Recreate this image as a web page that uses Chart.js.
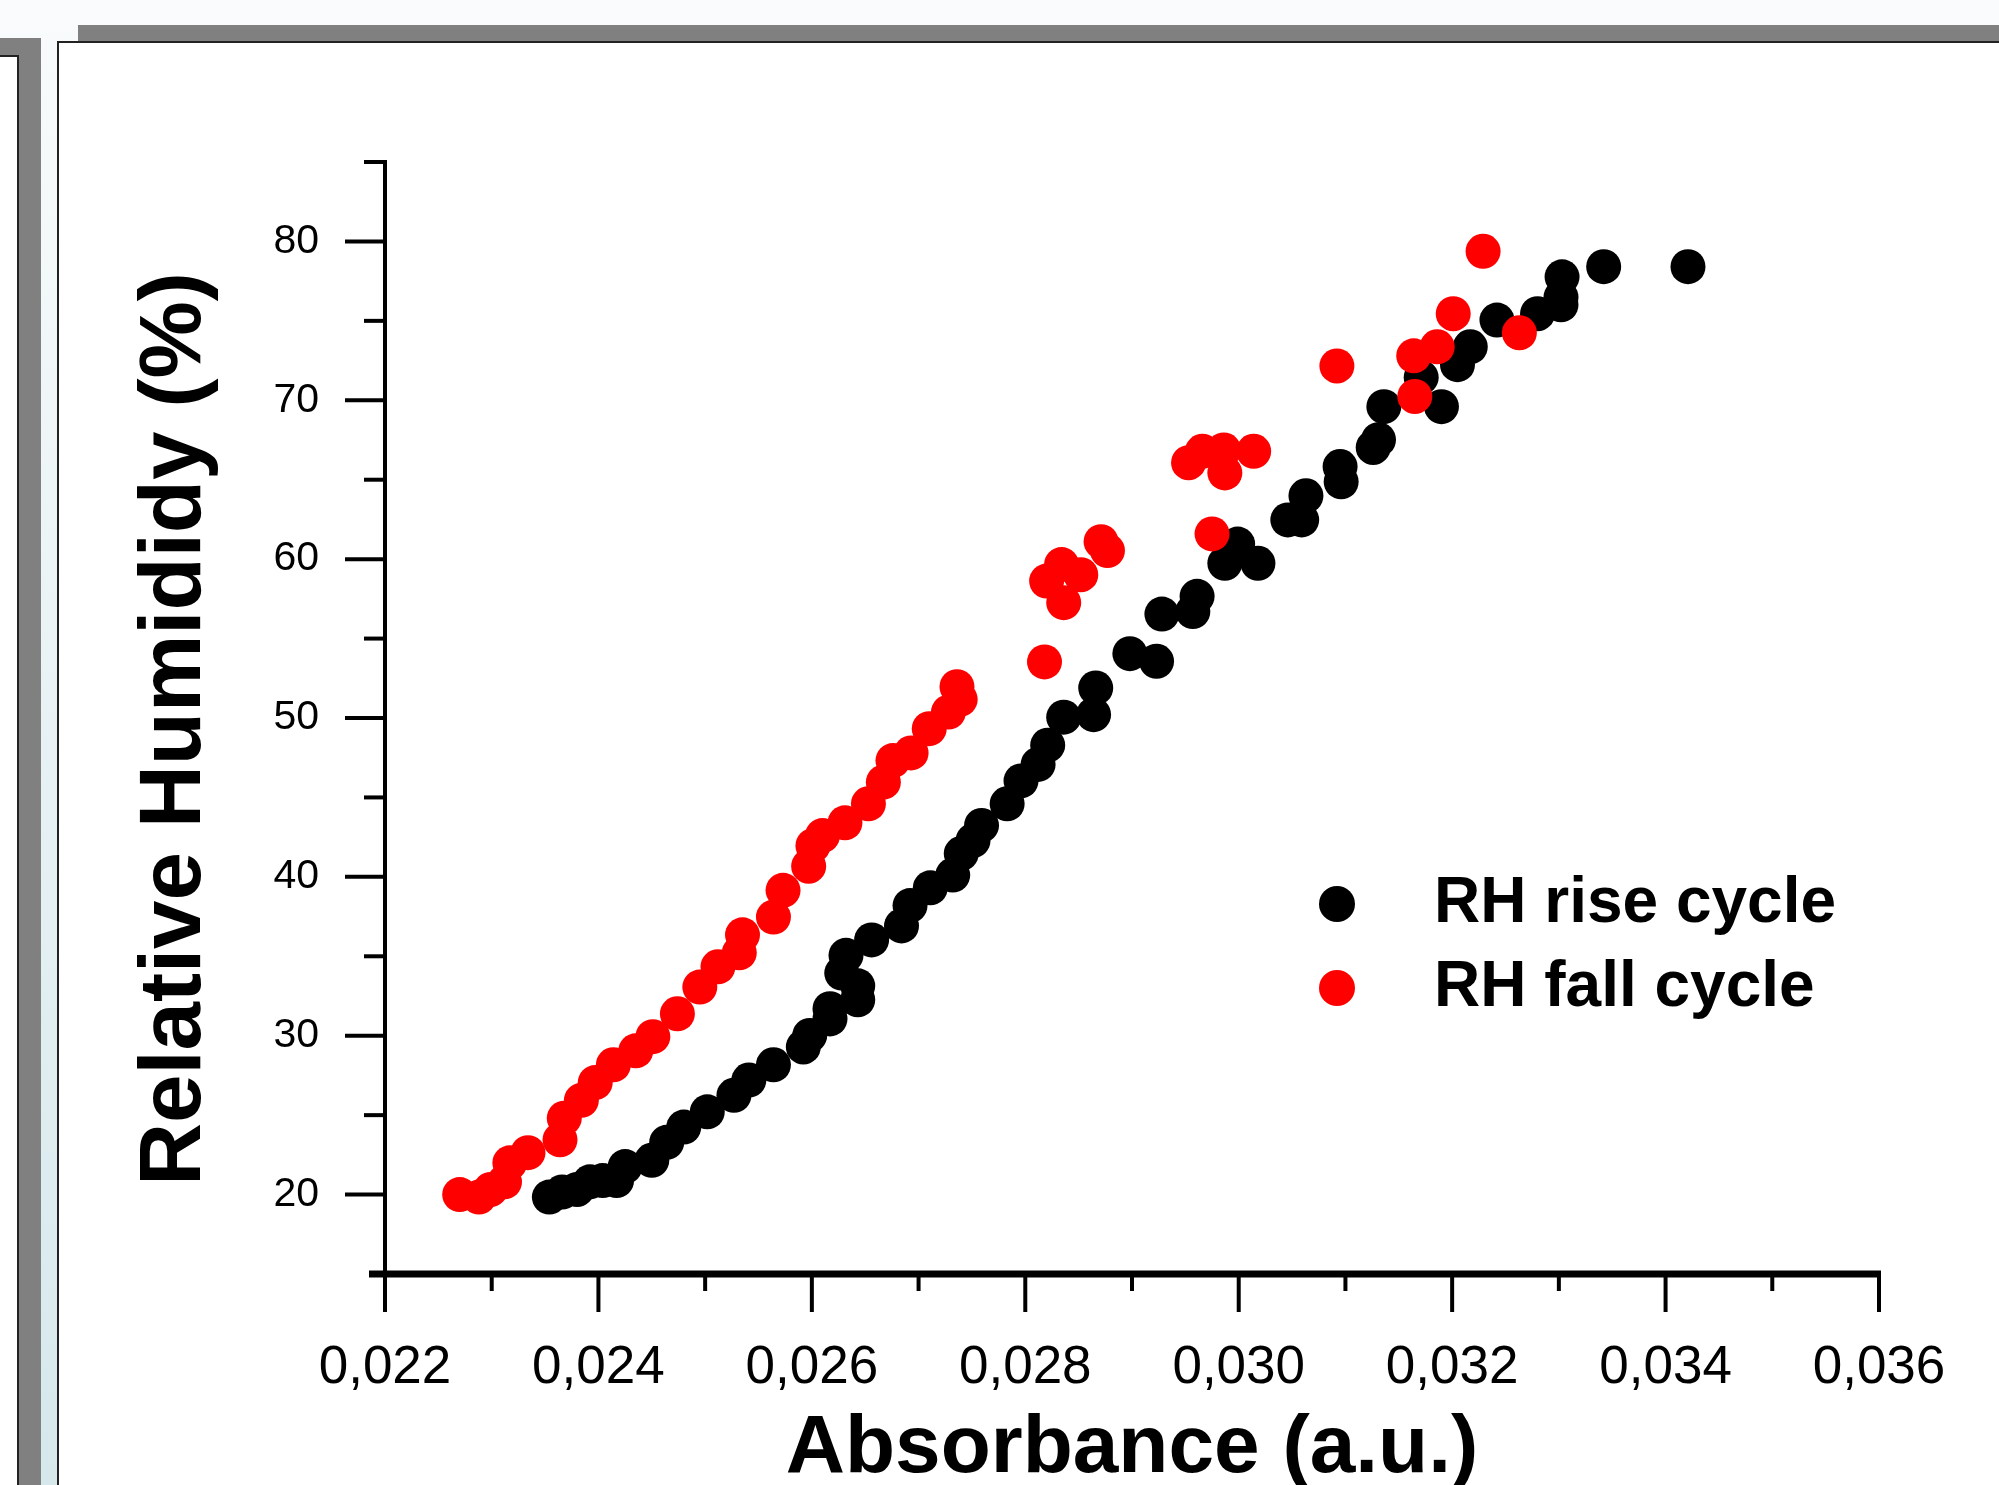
<!DOCTYPE html>
<html>
<head>
<meta charset="utf-8">
<script src="https://cdn.jsdelivr.net/npm/chart.js@4.4.1/dist/chart.umd.min.js"></script>
<style>
  html, body { margin: 0; padding: 0; }
  body {
    width: 1999px; height: 1485px; overflow: hidden; position: relative;
    background: linear-gradient(#f9fbfc, #d6e8eb);
  }
  .bar { position: absolute; background: #808080; }
  #topBar { left: 78px; top: 25px; width: 1921px; height: 17px; }
  #leftBar { left: 0; top: 38px; width: 41px; height: 1447px; }
  #leftPage {
    position: absolute; left: 0; top: 55px; width: 17px; height: 1430px;
    background: #fff; border-top: 2px solid #222; border-right: 2px solid #222;
  }
  #panel {
    position: absolute; left: 57px; top: 41px; width: 1942px; height: 1444px;
    background: #fff; border-left: 2px solid #222; border-top: 2px solid #222;
  }
  #chartBox { position: absolute; left: 60px; top: 44px; }
</style>
</head>
<body>
<div class="bar" id="topBar"></div>
<div class="bar" id="leftBar"></div>
<div id="leftPage"></div>
<div id="panel"></div>
<div id="chartBox"><canvas id="rhChart" width="1939" height="1560"></canvas></div>

<script>
// RH rise cycle (black)
const riseX = [0.02354, 0.02366, 0.02380, 0.02392, 0.02404, 0.02417, 0.02425, 0.02450, 0.02464, 0.02480,
    0.02502, 0.02527, 0.02541, 0.02564, 0.02592, 0.02598, 0.02617, 0.02617, 0.02628, 0.02632,
    0.02643, 0.02643, 0.02656, 0.02684, 0.02692, 0.02711, 0.02732, 0.02740, 0.02751, 0.02759,
    0.02783, 0.02796, 0.02812, 0.02821, 0.02836, 0.02864, 0.02866, 0.02898, 0.02923, 0.02928,
    0.02957, 0.02961, 0.02987, 0.02999, 0.03018, 0.03046, 0.03059, 0.03063, 0.03095, 0.03096,
    0.03126, 0.03131, 0.03136, 0.03171, 0.03190, 0.03205, 0.03217, 0.03242, 0.03280, 0.03302,
    0.03302, 0.03303, 0.03342, 0.03421];
const riseY = [19.84, 20.16, 20.32, 20.80, 20.88, 20.88, 21.76, 22.16, 23.29, 24.25,
    25.21, 26.25, 27.21, 28.17, 29.29, 30.02, 31.06, 31.70, 33.94, 35.06,
    33.14, 32.26, 36.03, 36.91, 38.19, 39.31, 40.11, 41.47, 42.28, 43.24,
    44.60, 46.04, 47.08, 48.29, 50.05, 50.21, 51.89, 54.05, 53.57, 56.54,
    56.70, 57.66, 59.74, 60.95, 59.74, 62.47, 62.47, 63.99, 65.83, 64.87,
    67.03, 67.52, 69.60, 71.44, 69.60, 72.24, 73.37, 75.05, 75.45, 76.01,
    76.49, 77.77, 78.41, 78.41];

// RH fall cycle (red)
const fallX = [0.02270, 0.02288, 0.02299, 0.02312, 0.02317, 0.02334, 0.02364, 0.02368, 0.02384, 0.02397,
    0.02414, 0.02435, 0.02451, 0.02474, 0.02495, 0.02512, 0.02532, 0.02535, 0.02564, 0.02573,
    0.02597, 0.02601, 0.02610, 0.02631, 0.02653, 0.02667, 0.02676, 0.02693, 0.02710, 0.02728,
    0.02739, 0.02736, 0.02818, 0.02820, 0.02834, 0.02836, 0.02852, 0.02871, 0.02877, 0.02953,
    0.02966, 0.02986, 0.02987, 0.03014, 0.02975, 0.03092, 0.03164, 0.03186, 0.03165, 0.03201,
    0.03229, 0.03263];
const fallY = [20.00, 19.84, 20.32, 20.80, 22.00, 22.64, 23.45, 24.81, 25.93, 27.05,
    28.17, 29.05, 29.94, 31.38, 33.06, 34.34, 35.22, 36.35, 37.47, 39.15,
    40.67, 41.96, 42.60, 43.40, 44.60, 45.96, 47.32, 47.80, 49.33, 50.37,
    51.17, 51.97, 53.53, 58.62, 59.66, 57.26, 59.02, 61.10, 60.54, 66.07,
    66.79, 66.87, 65.43, 66.79, 61.59, 72.16, 72.80, 73.37, 70.24, 75.45,
    79.38, 74.25];

const seriesNames = ["RH rise cycle", "RH fall cycle"];

// axes
const xMajorTicks = [0.022, 0.024, 0.026, 0.028, 0.030, 0.032, 0.034, 0.036];
const xTickLabels = ["0,022", "0,024", "0,026", "0,028", "0,030", "0,032", "0,034", "0,036"];
const xMinorTicks = [0.023, 0.025, 0.027, 0.029, 0.031, 0.033, 0.035];
const yMajorTicks = [20, 30, 40, 50, 60, 70, 80];
const yTickLabels = ["20", "30", "40", "50", "60", "70", "80"];
const yMinorTicks = [25, 35, 45, 55, 65, 75, 85];
const yTitle = "Relative Humididy (%)";

const FONT = '"Liberation Sans", Arial, Helvetica, sans-serif';
Chart.defaults.font.family = FONT;
Chart.defaults.color = "#000";

const toPoints = (xs, ys) => xs.map((x, i) => ({ x: x, y: ys[i] }));

// axis lines + outward ticks, drawn by hand so minor ticks can be shorter
const axesPlugin = {
    id: "originAxes",
    afterDraw(chart) {
        const { ctx } = chart;
        const x = chart.scales.x;
        const y = chart.scales.y;
        const xL = x.getPixelForValue(0.022);
        const xR = x.getPixelForValue(0.036);
        const yB = y.getPixelForValue(15);
        const yT = y.getPixelForValue(85);
        const line = (x1, y1, x2, y2) => {
            ctx.beginPath();
            ctx.moveTo(x1, y1);
            ctx.lineTo(x2, y2);
            ctx.stroke();
        };
        ctx.save();
        ctx.strokeStyle = "#000";
        ctx.lineCap = "butt";

        ctx.lineWidth = 4;
        line(xL, yT - 2, xL, yB);
        yMajorTicks.forEach(v => line(xL - 40, y.getPixelForValue(v), xL, y.getPixelForValue(v)));
        yMinorTicks.forEach(v => line(xL - 21, y.getPixelForValue(v), xL, y.getPixelForValue(v)));

        ctx.lineWidth = 7;
        line(xL - 16, yB, xR + 2, yB);
        ctx.lineWidth = 4;
        xMajorTicks.forEach(v => line(x.getPixelForValue(v), yB, x.getPixelForValue(v), yB + 38));
        xMinorTicks.forEach(v => line(x.getPixelForValue(v), yB, x.getPixelForValue(v), yB + 17));
        ctx.restore();
    }
};

// rotated y title, sits a bit below the plot centre like the original
const yTitlePlugin = {
    id: "yTitle",
    afterDraw(chart) {
        const { ctx, chartArea } = chart;
        ctx.save();
        ctx.translate(chartArea.left - 209, (chartArea.top + chartArea.bottom) / 2 + 11);
        ctx.rotate(-Math.PI / 2);
        ctx.font = "bold 87px " + FONT;
        ctx.fillStyle = "#000";
        ctx.textAlign = "center";
        ctx.textBaseline = "middle";
        ctx.fillText(yTitle, 0, 0);
        ctx.restore();
    }
};

// legend sitting inside the plot, lower right
const legendPlugin = {
    id: "innerLegend",
    afterDraw(chart) {
        const { ctx, chartArea } = chart;
        ctx.save();
        ctx.font = "bold 64px " + FONT;
        ctx.textBaseline = "middle";
        ctx.textAlign = "left";
        chart.data.datasets.forEach((ds, i) => {
            const cy = chartArea.top + 742 + i * 84;
            const cx = chartArea.left + 952;
            ctx.fillStyle = ds.backgroundColor;
            ctx.beginPath();
            ctx.arc(cx, cy, 18, 0, Math.PI * 2);
            ctx.fill();
            ctx.fillStyle = "#000";
            ctx.fillText(ds.label, chartArea.left + 1049, cy);
        });
        ctx.restore();
    }
};

new Chart(document.getElementById("rhChart"), {
    type: "scatter",
    data: {
        datasets: [
            {
                label: seriesNames[0],
                data: toPoints(riseX, riseY),
                backgroundColor: "#000000",
                borderWidth: 0,
                pointRadius: 17.5,
                order: 1,
            },
            {
                label: seriesNames[1],
                data: toPoints(fallX, fallY),
                backgroundColor: "#ff0000",
                borderWidth: 0,
                pointRadius: 17.5,
                order: 0,
            },
        ],
    },
    options: {
        responsive: false,
        animation: false,
        layout: {
            padding: { left: 0, right: 120, top: 118, bottom: 0 },
        },
        scales: {
            x: {
                type: "linear",
                min: 0.022,
                max: 0.036,
                // tick marks are drawn by the plugin; tickLength only pushes the labels down
                grid: { display: false, drawTicks: true, tickLength: 60 },
                border: { display: false },
                afterBuildTicks: (scale) => {
                    scale.ticks = xMajorTicks.map(v => ({ value: v }));
                },
                afterFit: (scale) => { scale.height = 330; },
                ticks: {
                    autoSkip: false,
                    maxRotation: 0,
                    padding: 3,
                    font: { size: 53 },
                    callback: (value, index) => xTickLabels[index],
                },
                title: {
                    display: true,
                    text: "Absorbance (a.u.)",
                    font: { size: 82, weight: "bold" },
                    padding: { top: 0, bottom: 105 },
                },
            },
            y: {
                type: "linear",
                min: 15,
                max: 85,
                grid: { display: false, drawTicks: false },
                border: { display: false },
                afterBuildTicks: (scale) => {
                    scale.ticks = yMajorTicks.map(v => ({ value: v }));
                },
                afterFit: (scale) => { scale.width = 325; },
                ticks: {
                    padding: 66,
                    font: { size: 41 },
                    callback: (value, index) => yTickLabels[index],
                },
                title: { display: false },
            },
        },
        plugins: {
            legend: { display: false },
            tooltip: { enabled: false },
        },
    },
    plugins: [axesPlugin, yTitlePlugin, legendPlugin],
});
</script>
</body>
</html>
